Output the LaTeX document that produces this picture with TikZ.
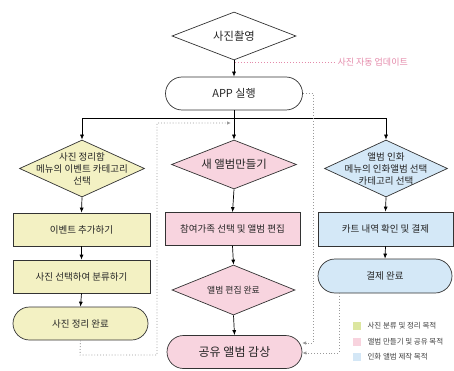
\documentclass[tikz,border=0pt]{standalone}
\usepackage{fontspec}
\setmainfont{Noto Sans CJK KR}
\usetikzlibrary{shapes.geometric,shapes.misc,arrows.meta,calc}
\definecolor{fy}{HTML}{F3F1C3}
\definecolor{fp}{HTML}{F8D4DF}
\definecolor{fb}{HTML}{D4E8F7}
\definecolor{ly}{HTML}{DCE6A0}
\definecolor{lp}{HTML}{F8D3DE}
\definecolor{lb}{HTML}{D4E7F6}
\definecolor{edge}{HTML}{333333}
\definecolor{dotc}{HTML}{9A9A9A}
\definecolor{upc}{HTML}{E48AAA}
\tikzset{
  base/.style={draw=edge, line width=0.7pt, inner sep=0pt},
  dia/.style={base, shape=diamond},
  boxn/.style={base, rectangle},
  stad/.style={base, rounded rectangle},
  txt/.style={font=\fontsize{9.5}{12}\selectfont, align=center, text=black!85},
  arr/.style={draw=black, line width=0.7pt, -{Latex[length=5pt,width=4pt]}},
  dotarr/.style={draw=dotc, line width=0.9pt, dotted, -{Latex[length=4pt,width=3.5pt,fill=dotc]}},
  legsq/.style={minimum width=8pt, minimum height=8pt, inner sep=0pt},
  legtx/.style={font=\fontsize{7.5}{9}\selectfont, anchor=west, text=black!75}
}
\begin{document}
\begin{tikzpicture}[x=1pt,y=-1pt]
\useasboundingbox (0,0) rectangle (454,371);
% top
\node[dia, fill=white, minimum width=124pt, minimum height=48pt,
  label={[txt,font=\fontsize{11.3}{13}\selectfont]center:사진촬영}] (top) at (234,36) {};
\node[stad, fill=white, minimum width=137pt, minimum height=33pt,
  label={[txt,font=\fontsize{11}{13}\selectfont]center:APP 실행}] (app) at (234,93.5) {};
\node[font=\fontsize{9}{11}\selectfont, text=upc, anchor=west] (upd) at (334,62) {사진 자동 업데이트};
% row diamonds
\node[dia, fill=fy, minimum width=125pt, minimum height=57pt,
  label={[txt]center:사진 정리함\\메뉴의 이벤트 카테고리\\선택}] (y1) at (82,168.5) {};
\node[dia, fill=fp, minimum width=125pt, minimum height=49pt,
  label={[txt,font=\fontsize{11.4}{13}\selectfont]center:새 앨범만들기}] (p1) at (234,164.5) {};
\node[dia, fill=fb, minimum width=123pt, minimum height=57pt,
  label={[txt]center:앨범 인화\\메뉴의 인화앨범 선택\\카테고리 선택}] (b1) at (386,168.5) {};
% boxes
\node[boxn, fill=fy, minimum width=137pt, minimum height=33pt,
  label={[txt]center:이벤트 추가하기}] (y2) at (81.5,229.5) {};
\node[boxn, fill=fp, minimum width=135pt, minimum height=33pt,
  label={[txt]center:참여가족 선택 및 앨범 편집}] (p2) at (232.5,229) {};
\node[boxn, fill=fb, minimum width=135pt, minimum height=34pt,
  label={[txt]center:카트 내역 확인 및 결제}] (b2) at (385.5,229) {};
\node[boxn, fill=fy, minimum width=137pt, minimum height=33pt,
  label={[txt]center:사진 선택하여 분류하기}] (y3) at (81.5,276.5) {};
\node[dia, fill=fp, minimum width=123pt, minimum height=50pt,
  label={[txt,font=\fontsize{8.8}{11}\selectfont]center:앨범 편집 완료}] (p3) at (233.5,290) {};
\node[stad, fill=fb, minimum width=134pt, minimum height=34pt,
  label={[txt]center:결제 완료}] (b3) at (385,276) {};
\node[stad, fill=fy, minimum width=135pt, minimum height=33pt,
  label={[txt]center:사진 정리 완료}] (y4) at (80.5,323.5) {};
\node[stad, fill=fp, minimum width=135pt, minimum height=33pt,
  label={[txt,font=\fontsize{12}{14}\selectfont]center:공유 앨범 감상}] (p4) at (234.5,352) {};
% coordinates
\coordinate (split) at (234,118);
\coordinate (updsrc) at (235,62);
\coordinate (dl1) at (80,355);
\coordinate (dl2) at (157,355);
\coordinate (dl3) at (157,123);
\coordinate (dl4) at (231,123);
\coordinate (dr1) at (313,93.5);
\coordinate (dr2) at (313,343);
\coordinate (dr3) at (302,343);
\coordinate (db1) at (339,293);
\coordinate (db2) at (339,353);
% solid connectors
\draw[arr] (top.south) -- (app.north);
\draw[arr] (app.south) -- (p1.north);
\draw[arr] (split) -| (y1.north);
\draw[arr] (split) -| (b1.north);
\draw[arr] (y1.south) -- (y2.north);
\draw[arr] (y2.south) -- (y3.north);
\draw[arr] (y3.south) -- (y4.north);
\draw[arr] (p1.south) -- (p2.north);
\draw[arr] (p2.south) -- (p3.north);
\draw[arr] (p3.south) -- (p4.north);
\draw[arr] (b1.south) -- (b2.north);
\draw[arr] (b2.south) -- (b3.north);
% dotted connectors
\draw[draw=upc, line width=0.9pt, dotted] (updsrc) -- (upd.west);
\draw[dotarr] (y4.south) -- (dl1) -- (dl2) -- (dl3) -- (dl4);
\draw[dotarr] (app.east) -- (dr1) -- (dr2) -- (dr3);
\draw[dotarr] (db1) -- (db2) -- (p4.east |- db2);
% legend
\node[legsq, fill=ly] (lg1) at (357,326) {};
\node[legsq, fill=lp] (lg2) at (357,341.5) {};
\node[legsq, fill=lb] (lg3) at (357,357) {};
\node[legtx] (lt1) at (364,326) {사진 분류 및 정리 목적};
\node[legtx] (lt2) at (364,341.5) {앨범 만들기 및 공유 목적};
\node[legtx] (lt3) at (364,357) {인화 앨범 제작 목적};
\end{tikzpicture}
\end{document}
